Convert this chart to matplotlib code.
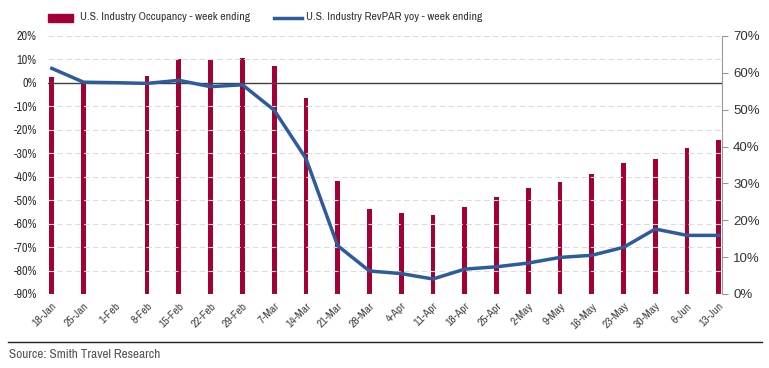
import matplotlib
matplotlib.use("Agg")
import matplotlib.pyplot as plt
import numpy as np
from matplotlib import font_manager

names = {f.name for f in font_manager.fontManager.ttflist}
narrow = next((n for n in ['Arial Narrow', 'Liberation Sans Narrow', 'Archivo Narrow',
                           'Roboto Condensed', 'PT Sans Narrow', 'Asap Condensed']
               if n in names), 'Liberation Sans')
plt.rcParams['font.family'] = [narrow, 'DejaVu Sans']

weeks = ["18-Jan", "25-Jan", "1-Feb", "8-Feb", "15-Feb", "22-Feb", "29-Feb", "7-Mar",
         "14-Mar", "21-Mar", "28-Mar", "4-Apr", "11-Apr", "18-Apr", "25-Apr", "2-May",
         "9-May", "16-May", "23-May", "30-May", "6-Jun", "13-Jun"]
occupancy = [59.0, 57.6, np.nan, 59.2, 63.8, 63.4, 64.1, 61.9, 53.1, 30.7, 23.0, 21.9,
             21.3, 23.7, 26.2, 28.8, 30.4, 32.6, 35.5, 36.7, 39.5, 41.8]
revpar_yoy = [6.2, 0.3, 0.1, -0.2, 1.1, -1.6, -0.8, -11.6, -32.2, -69.4, -80.2, -81.3,
              -83.6, -79.4, -78.4, -76.8, -74.4, -73.5, -70.1, -62.3, -65.0, -65.0]
left_ticks = list(range(-90, 21, 10))
right_ticks = list(range(0, 71, 10))

bar_color = '#A30035'
line_color = '#2D5B9E'
text_color = '#333333'

fig = plt.figure(figsize=(7.69, 3.68), dpi=100)
axL = fig.add_axes([48/769, 1-294/368, (722-48)/769, (294-36)/368])
axR = axL.twinx()

x = np.arange(len(weeks))
axR.bar(x, occupancy, width=0.15, color=bar_color, zorder=2)
axR.set_ylim(0, 70)
axR.set_yticks(right_ticks)
axR.set_yticklabels([f"{v}%" for v in right_ticks], fontsize=9.5, family=['Liberation Sans', 'DejaVu Sans'])

axL.set_ylim(-90, 20)
axL.set_yticks(left_ticks)
axL.set_yticklabels([f"{v}%" for v in left_ticks], fontsize=8.8)
for v in left_ticks:
    axL.axhline(v, color='#DCDCDC', lw=0.8, ls=(0, (5, 3)), zorder=0)
axL.axhline(0, color='#404040', lw=1.0, zorder=1)

axL.set_zorder(axR.get_zorder() + 1)
axL.patch.set_visible(False)
axL.plot(x, revpar_yoy, color=line_color, lw=2.5, zorder=3)

axL.set_xlim(-0.12, len(weeks) - 1 + 0.1)
axL.set_xticks(x)
axL.set_xticklabels(weeks, rotation=45, ha='right', rotation_mode='anchor', fontsize=8.3, color='#444444')

for ax in (axL, axR):
    for s in ('top', 'left', 'bottom'):
        ax.spines[s].set_visible(False)
axR.spines['right'].set_color('#999999')
axL.spines['right'].set_visible(False)
axL.tick_params(axis='y', length=0, pad=8, colors=text_color)
axL.tick_params(axis='x', length=0, pad=5)
axR.tick_params(axis='y', length=4, color='#999999', colors=text_color, pad=4)

# legend
fig.patches.append(plt.Rectangle((48/769, 1-22/368), 25/769, 8/368, transform=fig.transFigure,
                                 color=bar_color, figure=fig))
fig.text(80/769, 1-17.5/368, "U.S. Industry Occupancy - week ending", fontsize=8.4, va='center', color=text_color)
fig.lines.append(plt.Line2D([274/769, 302/769], [1-17.5/368, 1-17.5/368], transform=fig.transFigure,
                            color=line_color, lw=2.5, figure=fig))
fig.text(306/769, 1-17.5/368, "U.S. Industry RevPAR yoy - week ending", fontsize=8.4, va='center', color=text_color)

# separator and source
fig.lines.append(plt.Line2D([8/769, 762/769], [1-342/368, 1-342/368], transform=fig.transFigure,
                            color='#222222', lw=1.0, figure=fig))
fig.text(9/769, 1-354/368, "Source: Smith Travel Research", fontsize=9.5, va='center', color='#555555')

fig.savefig("out.png", dpi=100)
